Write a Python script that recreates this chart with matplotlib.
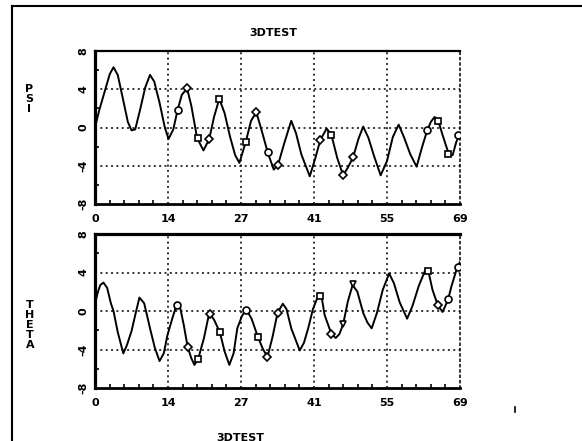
import matplotlib
matplotlib.use("Agg")
import matplotlib.pyplot as plt
from matplotlib.lines import Line2D
from matplotlib.ticker import MultipleLocator

# PSI curve (top panel)
psi_x = [0, 0.8, 1.9, 2.8, 3.5, 4.3, 5.2, 6.2, 6.9, 7.6, 8.5, 9.5, 10.4, 11.2,
         12.2, 13.2, 13.9, 14.8, 15.6, 16.4, 17.4, 18.2, 19.3, 20.5, 21.6, 22.5,
         23.5, 24.5, 25.5, 26.5, 27.3, 28.5, 29.5, 30.5, 31.6, 32.7, 33.8, 34.6,
         35.8, 37.1, 38.0, 39.0, 40.6, 41.6, 42.6, 43.8, 44.7, 45.8, 46.9, 47.8,
         48.8, 49.8, 50.7, 51.7, 52.7, 54.0, 55.2, 56.3, 57.4, 58.4, 59.6, 60.8,
         61.8, 62.8, 63.5, 64.2, 64.9, 65.6, 66.3, 66.9, 67.6, 68.3, 69.0]
psi_y = [0.0, 1.8, 3.9, 5.6, 6.3, 5.5, 3.2, 0.6, -0.3, -0.2, 1.8, 4.2, 5.5, 4.8,
         2.6, 0.0, -1.2, -0.2, 1.8, 3.4, 4.1, 2.3, -1.1, -2.4, -1.2, 1.1,
         3.0, 1.5, -0.9, -2.9, -3.7, -1.5, 0.7, 1.6, -0.5, -2.7, -4.4, -3.9,
         -1.6, 0.7, -0.6, -2.8, -5.1, -3.3, -1.3, -0.1, -0.8, -3.2, -5.0, -4.2,
         -3.1, -1.2, 0.1, -1.1, -2.9, -5.0, -3.5, -1.0, 0.3, -1.0, -2.8, -4.1,
         -2.1, -0.3, 0.6, 1.1, 0.7, -0.6, -1.8, -2.8, -2.9, -1.5, -0.7]
psi_mx = [15.6, 17.4, 19.4, 21.6, 23.5, 28.5, 30.5, 32.7, 34.5, 42.6, 44.7,
          46.8, 48.7, 62.8, 64.9, 66.7, 68.7]
psi_my = [1.8, 4.1, -1.1, -1.2, 3.0, -1.5, 1.6, -2.6, -3.9, -1.3, -0.8,
          -5.0, -3.1, -0.3, 0.7, -2.8, -0.8]
psi_mk = ["o", "D", "s", "D", "s", "s", "D", "o", "D", "D", "s",
          "D", "D", "o", "s", "s", "o"]

# THETA curve (bottom panel)
theta_x = [0, 0.5, 1.0, 1.6, 2.3, 3.0, 3.5, 4.3, 5.35, 6.0, 6.9, 7.7, 8.4, 9.3,
           10.4, 11.3, 12.2, 13.0, 13.7, 14.6, 15.4, 16.0, 16.8, 17.5, 18.2,
           18.8, 19.5, 20.6, 21.6, 22.5, 23.6, 24.5, 25.4, 26.2, 26.9, 27.8,
           28.6, 29.6, 30.8, 31.7, 32.6, 33.6, 34.5, 35.5, 36.2, 37.1, 38.7,
           39.5, 40.3, 41.2, 42.2, 42.8, 43.4, 44.7, 45.5, 46.2, 46.9, 47.8,
           48.7, 49.6, 50.7, 51.5, 52.3, 53.3, 54.4, 55.6, 56.5, 57.6, 59.0,
           60.0, 61.2, 62.4, 63.0, 63.8, 64.8, 65.7, 66.7, 67.4, 68.4, 69.0]
theta_y = [0.7, 1.9, 2.7, 2.95, 2.4, 0.8, 0.0, -2.2, -4.4, -3.6, -2.1, -0.2, 1.4,
           0.8, -1.8, -3.8, -5.2, -4.4, -2.5, -0.8, 0.6, 0.6, -1.5, -3.7, -4.9,
           -5.6, -5.0, -2.8, -0.2, -0.9, -2.2, -4.2, -5.6, -4.4, -1.8, -0.5,
           0.15, -0.8, -2.7, -3.9, -4.8, -2.6, -0.2, 0.75, 0.2, -1.8, -4.1,
           -3.3, -1.8, 0.2, 1.6, 1.6, -0.4, -2.4, -2.8, -2.4, -1.4, 1.0,
           2.7, 2.0, -0.2, -1.2, -1.8, -0.2, 2.2, 3.9, 2.9, 0.9, -0.8,
           0.5, 2.6, 4.2, 4.2, 2.2, 0.6, -0.1, 1.1, 2.6, 4.4, 5.1]
theta_mx = [15.5, 17.5, 19.4, 21.7, 23.6, 28.5, 30.8, 32.6, 34.6, 42.6, 44.6,
            46.9, 48.7, 62.9, 64.8, 66.7, 68.6]
theta_my = [0.6, -3.7, -5.0, -0.3, -2.2, 0.1, -2.7, -4.8, -0.2, 1.6, -2.4,
            -1.4, 2.8, 4.2, 0.6, 1.2, 4.6]
theta_mk = ["o", "D", "s", "D", "s", "o", "s", "D", "D", "s", "D",
            "v", "v", "s", "D", "o", "o"]

x_ticks = [0, 13.8, 27.6, 41.4, 55.2, 69]
x_labels = ["0", "14", "27", "41", "55", "69"]
y_ticks = [-8, -4, 0, 4, 8]
y_labels = ["-8", "-4", "0", "4", "8"]

W, H = 582, 441
fig = plt.figure(figsize=(W / 100, H / 100), dpi=100)
font = dict(family="DejaVu Sans", weight="bold", size=8)


def panel(rect, xs, ys, mx, my, mk, top_lw):
    ax = fig.add_axes(rect)
    ax.set_xlim(0, 69)
    ax.set_ylim(-8, 8)
    ax.plot(xs, ys, color="black", lw=1.4, zorder=3)
    for x, y, m in zip(mx, my, mk):
        ms = 4.2 if m == "D" else 5
        ax.plot(x, y, m, ms=ms, mfc="white", mec="black", mew=1.2, zorder=4)
    dots = (0, (1.3, 2.2))
    for v in x_ticks[1:-1]:
        ax.axvline(v, color="black", lw=1.1, ls=dots, zorder=1)
    for v in y_ticks[1:-1]:
        ax.axhline(v, color="black", lw=1.1, ls=dots, zorder=1)
    ax.set_xticks(x_ticks)
    ax.set_xticklabels(x_labels, fontdict=font)
    ax.set_yticks(y_ticks)
    ax.set_yticklabels(y_labels, fontdict=font, rotation=90, va="center")
    ax.xaxis.set_minor_locator(MultipleLocator(13.8 / 5))
    ax.yaxis.set_minor_locator(MultipleLocator(2))
    ax.tick_params(which="major", length=0, pad=5)
    ax.tick_params(which="minor", direction="in", length=3, width=1.2)
    ax.tick_params(axis="x", which="major", pad=7)
    ax.spines["left"].set_linewidth(2.3)
    ax.spines["bottom"].set_linewidth(2.0)
    ax.spines["top"].set_linewidth(top_lw)
    ax.spines["right"].set_linewidth(1.1)
    ax.spines["right"].set_linestyle(dots)
    return ax


ax1 = panel([95 / W, 1 - 204 / H, 365 / W, 153 / H],
            psi_x, psi_y, psi_mx, psi_my, psi_mk, 1.6)
ax2 = panel([95 / W, 1 - 388 / H, 365 / W, 154 / H],
            theta_x, theta_y, theta_mx, theta_my, theta_mk, 2.3)

# texts
fig.text(273 / W, 1 - 33 / H, "3DTEST", ha="center", va="center", **font)
fig.text(240 / W, 1 - 433 / H, "3DTEST", ha="center", va="top", **font)
fig.text(29 / W, 1 - 99 / H, "P\nS\nI", ha="center", va="center",
         linespacing=1.0, **font)
fig.text(30 / W, 1 - 325 / H, "T\nH\nE\nT\nA", ha="center", va="center",
         linespacing=1.0, **font)

# outer frame (left and top edges) and stray mark
fig.add_artist(Line2D([12 / W, 12 / W], [0, 1 - 6 / H], color="black", lw=1.5,
                      transform=fig.transFigure))
fig.add_artist(Line2D([12 / W, 1], [1 - 6 / H, 1 - 6 / H], color="black", lw=1.5,
                      transform=fig.transFigure))
fig.add_artist(Line2D([515 / W, 515 / W], [1 - 412 / H, 1 - 407 / H],
                      color="black", lw=1.2, transform=fig.transFigure))

fig.savefig("out.png", dpi=100)
